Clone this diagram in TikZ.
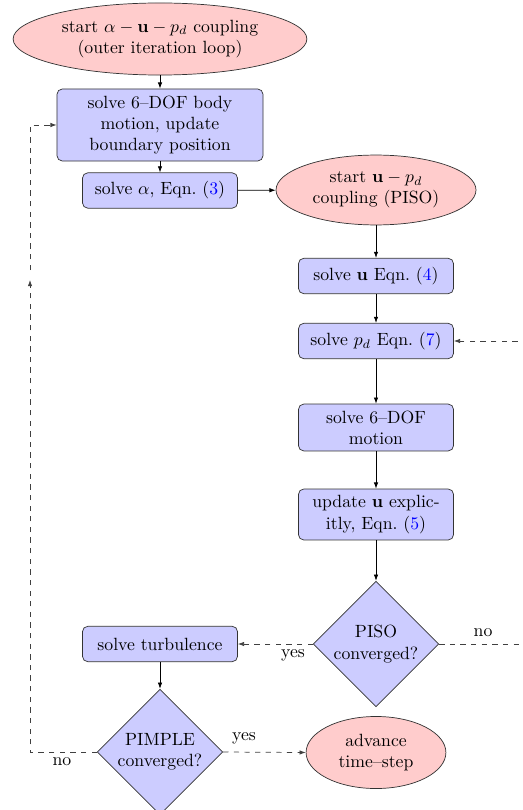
\documentclass[tikz,border=0pt]{standalone}
\usetikzlibrary{shapes.geometric,arrows.meta}
\begin{document}
\begin{tikzpicture}[x=0.565pt,y=-0.565pt,
  box/.style={rectangle,rounded corners=3pt,draw=black!80,fill=blue!20,align=center,inner sep=2pt,minimum width=87.6pt,minimum height=20pt},
  oval/.style={ellipse,draw=black!80,fill=red!20,align=center,inner sep=0pt},
  dia/.style={diamond,draw=black!80,fill=blue!20,align=center,inner sep=0pt,minimum width=71pt,minimum height=71pt},
  arr/.style={-{Latex[length=3.5pt,width=2.5pt]},thin},
  darr/.style={-{Latex[length=3.5pt,width=2.5pt]},thin,dashed,black!75},
  lbl/.style={inner sep=1pt}]
\useasboundingbox (0,0) rectangle (522,810);
\node[oval,minimum width=166pt,minimum height=40.7pt] (start) at (160,39) {start $\alpha-\mathbf{u}-p_d$ coupling\\(outer iteration loop)};
\node[box,minimum width=116.4pt,minimum height=40.7pt] (body) at (160,125) {solve 6--DOF body\\motion, update\\boundary position};
\node[box] (alpha) at (160,190.5) {solve $\alpha$, Eqn.~(\textcolor{blue}{3})};
\node[oval,minimum width=113pt,minimum height=39.5pt] (piso) at (376,190) {start $\mathbf{u}-p_d$\\coupling (PISO)};
\node[box] (ueq) at (376,276) {solve $\mathbf{u}$ Eqn.~(\textcolor{blue}{4})};
\node[box] (pd) at (376,341) {solve $p_d$ Eqn.~(\textcolor{blue}{7})};
\node[box,minimum height=26.5pt] (dof) at (376,427.5) {solve 6--DOF\\motion};
\node[box,minimum height=28.8pt] (upd) at (376,514.5) {update $\mathbf{u}$ explic-\\itly, Eqn.~(\textcolor{blue}{5})};
\node[dia] (pisoconv) at (376,644) {PISO\\converged?};
\node[box] (turb) at (160,644) {solve turbulence};
\node[dia] (pimple) at (160,752) {PIMPLE\\converged?};
\node[oval,minimum width=79pt,minimum height=40.7pt] (adv) at (376,752.5) {advance\\time--step};
\coordinate (rdown) at (560,644);
\coordinate (rup) at (560,341);
\coordinate (lbot) at (30,752);
\coordinate (lmid) at (30,280);
\coordinate (lmid2) at (30,270);
\coordinate (ltop) at (30,125);
\draw[arr] (start) -- (body);
\draw[arr] (body) -- (alpha);
\draw[arr] (alpha) -- (piso);
\draw[arr] (piso) -- (ueq);
\draw[arr] (ueq) -- (pd);
\draw[arr] (pd) -- (dof);
\draw[arr] (dof) -- (upd);
\draw[arr] (upd) -- (pisoconv);
\draw[arr] (turb) -- (pimple);
\draw[darr] (pisoconv.west) -- (turb.east);
\draw[dashed,thin,black!75] (pisoconv.east) -- (rdown) -- (rup);
\draw[darr] (rup) -- (pd.east);
\draw[darr] (pimple.east) -- (adv.west);
\draw[darr] (pimple.west) -- (lbot) -- (lmid);
\draw[darr] (lmid2) -- (ltop) -- (body.west);
\node[lbl] (yes1) at (293,655) {yes};
\node[lbl] (no1) at (483,633) {no};
\node[lbl] (yes2) at (244,738) {yes};
\node[lbl] (no2) at (62,762) {no};
\end{tikzpicture}
\end{document}
